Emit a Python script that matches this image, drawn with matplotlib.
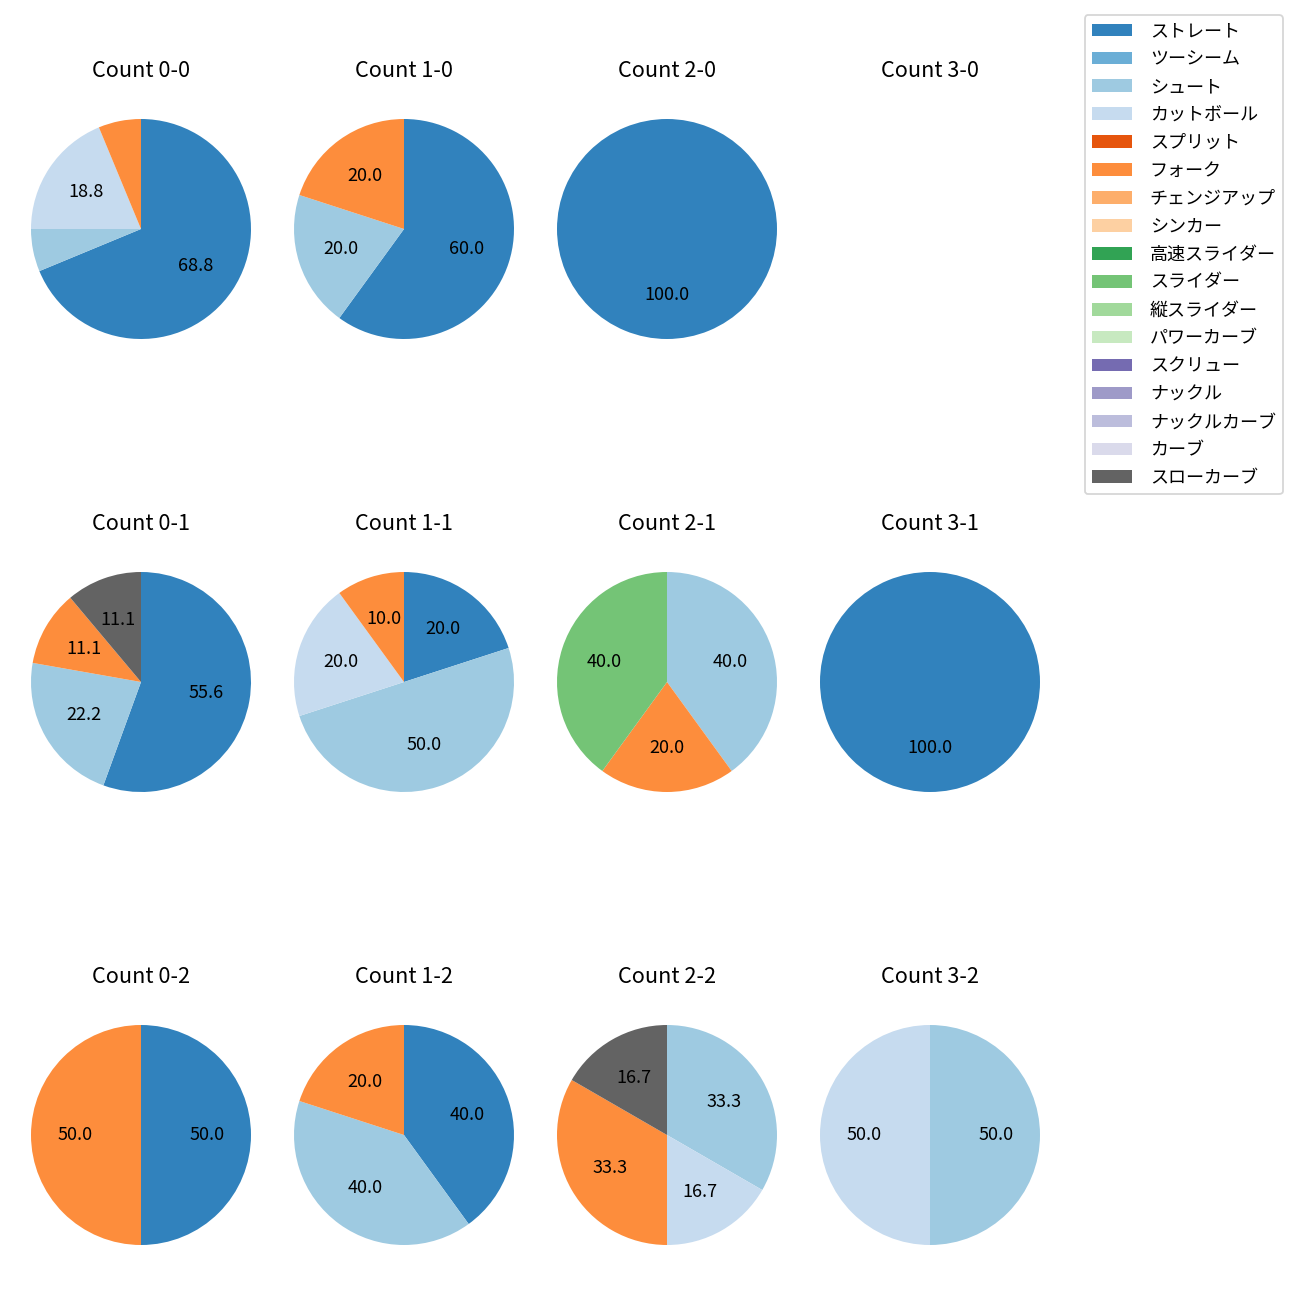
import matplotlib.pyplot as plt
from matplotlib.patches import Patch

plt.rcParams['font.family'] = ['Noto Sans CJK JP', 'DejaVu Sans']

# pitch types (legend order) and their colours
pitch_types = ['ストレート', 'ツーシーム', 'シュート', 'カットボール', 'スプリット', 'フォーク',
               'チェンジアップ', 'シンカー', '高速スライダー', 'スライダー', '縦スライダー',
               'パワーカーブ', 'スクリュー', 'ナックル', 'ナックルカーブ', 'カーブ', 'スローカーブ']
cmap = plt.get_cmap('tab20c')
colors = [cmap(i) for i in range(len(pitch_types))]

# pitch counts per ball-strike count
count_0_0 = {'ストレート': 11, 'シュート': 1, 'カットボール': 3, 'フォーク': 1}
count_1_0 = {'ストレート': 3, 'シュート': 1, 'フォーク': 1}
count_2_0 = {'ストレート': 1}
count_3_0 = {}
count_0_1 = {'ストレート': 5, 'シュート': 2, 'フォーク': 1, 'スローカーブ': 1}
count_1_1 = {'ストレート': 2, 'シュート': 5, 'カットボール': 2, 'フォーク': 1}
count_2_1 = {'シュート': 2, 'フォーク': 1, 'スライダー': 2}
count_3_1 = {'ストレート': 1}
count_0_2 = {'ストレート': 1, 'フォーク': 1}
count_1_2 = {'ストレート': 2, 'シュート': 2, 'フォーク': 1}
count_2_2 = {'シュート': 2, 'カットボール': 1, 'フォーク': 2, 'スローカーブ': 1}
count_3_2 = {'シュート': 1, 'カットボール': 1}

grid = [[count_0_0, count_1_0, count_2_0, count_3_0],
        [count_0_1, count_1_1, count_2_1, count_3_1],
        [count_0_2, count_1_2, count_2_2, count_3_2]]

W, H = 1300, 1300
fig = plt.figure(figsize=(10, 10), dpi=130)

# layout in pixels
col_x = [141, 404, 667, 930]
row_y = [229, 682, 1135]
side = 275

def autopct(p):
    return f'{p:.1f}' if p >= 10 else ''

for r, row in enumerate(grid):
    for c, data in enumerate(row):
        left = (col_x[c] - side / 2) / W
        bottom = 1 - (row_y[r] + side / 2) / H
        ax = fig.add_axes([left, bottom, side / W, side / H])
        names = [p for p in pitch_types if data.get(p, 0) > 0]
        vals = [data[p] for p in names]
        if vals:
            ax.pie(vals, colors=[colors[pitch_types.index(p)] for p in names],
                   startangle=90, counterclock=False, autopct=autopct,
                   textprops={'fontsize': 10})
        else:
            ax.set_xlim(-1.25, 1.25)
            ax.set_ylim(-1.25, 1.25)
            ax.axis('off')
        ax.set_aspect('equal')
        ax.set_title(f'Count {c}-{r}', fontsize=12, pad=8)

handles = [Patch(facecolor=col) for col in colors]
fig.legend(handles, pitch_types, loc='upper right',
           bbox_to_anchor=(1283 / W, 1 - 15 / H), borderaxespad=0, fontsize=10,
           handlelength=2.2, handletextpad=1.0, labelspacing=0.55)

fig.savefig('out.png', dpi=130)
